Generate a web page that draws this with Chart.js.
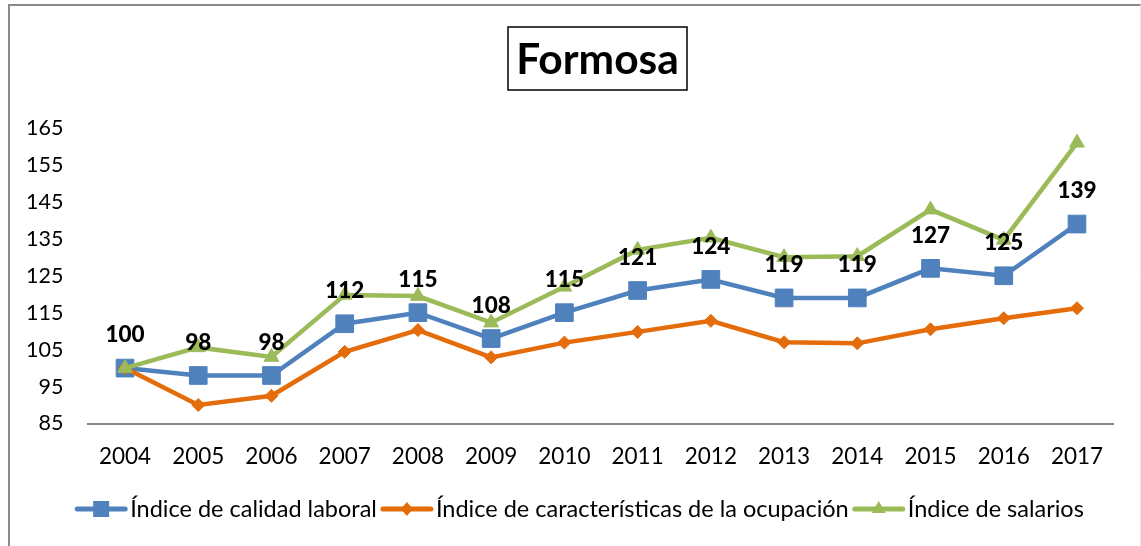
<!DOCTYPE html>
<html>
<head>
<meta charset="utf-8">
<script src="https://cdn.jsdelivr.net/npm/chart.js@4"></script>
<style>
html,body{margin:0;padding:0;background:#fff;}
#wrap{width:1141px;height:546px;position:relative;}
</style>
</head>
<body>
<div id="wrap"><canvas id="c" width="1141" height="546"></canvas></div>
<script>
const years = ['2004','2005','2006','2007','2008','2009','2010','2011','2012','2013','2014','2015','2016','2017'];
const calidadLaboral = [100, 98, 98, 112, 115, 108, 115, 121, 124, 119, 119, 127, 125, 139];
const caracteristicasOcupacion = [100, 90, 92.5, 104.4, 110.3, 102.9, 106.9, 109.8, 112.8, 107, 106.7, 110.5, 113.5, 116.2];
const salarios = [100, 105.6, 103, 119.8, 119.5, 112.3, 122, 132, 135.3, 130, 130.3, 142.9, 134.7, 161];
const seriesNames = ['Índice de calidad laboral', 'Índice de características de la ocupación', 'Índice de salarios'];
const yMin = 85, yMax = 165, yStep = 10;
const chartTitle = 'Formosa';

const BLUE = '#4F81BD', ORANGE = '#E46C0A', GREEN = '#9BBB59';
const FONT = 'Lato, "Noto Sans", sans-serif';

const framePlugin = {
  id: 'frame',
  beforeDraw(chart) {
    const ctx = chart.ctx;
    ctx.save();
    ctx.fillStyle = '#fff';
    ctx.fillRect(0, 0, chart.width, chart.height);
    ctx.strokeStyle = '#8a8a8a';
    ctx.lineWidth = 2;
    ctx.beginPath();
    ctx.moveTo(9, 546); ctx.lineTo(9, 5); ctx.lineTo(1141, 5);
    ctx.stroke();
    ctx.strokeStyle = '#e6e6e6';
    ctx.lineWidth = 1;
    ctx.beginPath();
    ctx.moveTo(1140.5, 5); ctx.lineTo(1140.5, 546);
    ctx.stroke();
    ctx.restore();
  }
};

const titlePlugin = {
  id: 'boxTitle',
  afterDraw(chart) {
    const ctx = chart.ctx;
    ctx.save();
    ctx.strokeStyle = '#000';
    ctx.lineWidth = 1.5;
    ctx.strokeRect(508, 27, 179, 63);
    ctx.fillStyle = '#000';
    ctx.font = 'bold 42.5px ' + FONT;
    ctx.textAlign = 'center';
    ctx.textBaseline = 'middle';
    ctx.fillText(chartTitle, 597.5, 60);
    ctx.restore();
  }
};

const labelPlugin = {
  id: 'valueLabels',
  afterDatasetsDraw(chart) {
    const ctx = chart.ctx;
    const meta = chart.getDatasetMeta(0);
    const data = chart.data.datasets[0].data;
    ctx.save();
    ctx.fillStyle = '#000';
    ctx.font = '900 22.5px ' + FONT;
    ctx.textAlign = 'center';
    ctx.textBaseline = 'middle';
    meta.data.forEach((pt, i) => {
      ctx.fillText(String(Math.round(data[i])), pt.x, pt.y - 33);
    });
    ctx.restore();
  }
};

function drawMarker(ctx, style, x, y, color) {
  ctx.fillStyle = color;
  ctx.beginPath();
  if (style === 'rect') {
    ctx.rect(x - 8, y - 8, 16, 16);
  } else if (style === 'rectRot') {
    ctx.moveTo(x - 6, y); ctx.lineTo(x, y - 7); ctx.lineTo(x + 6, y); ctx.lineTo(x, y + 7);
    ctx.closePath();
  } else {
    ctx.moveTo(x, y - 8); ctx.lineTo(x + 7, y + 4); ctx.lineTo(x - 7, y + 4);
    ctx.closePath();
  }
  ctx.fill();
}

const legendPlugin = {
  id: 'customLegend',
  afterDraw(chart) {
    const ctx = chart.ctx;
    const styles = ['rect', 'rectRot', 'triangle'];
    const colors = [BLUE, ORANGE, GREEN];
    ctx.save();
    ctx.font = '23.5px ' + FONT;
    const lineLen = 52, gapText = 3, gapItem = 4;
    const widths = seriesNames.map(n => ctx.measureText(n).width);
    const total = widths.reduce((a, w) => a + lineLen + gapText + w, 0) + gapItem * (seriesNames.length - 1);
    let x = 579.5 - total / 2;
    const y = 509;
    seriesNames.forEach((name, i) => {
      ctx.strokeStyle = colors[i];
      ctx.lineWidth = 5;
      ctx.lineCap = 'round';
      ctx.beginPath();
      ctx.moveTo(x + 2, y); ctx.lineTo(x + lineLen - 2, y);
      ctx.stroke();
      drawMarker(ctx, styles[i], x + lineLen / 2, y, colors[i]);
      ctx.fillStyle = '#000';
      ctx.textAlign = 'left';
      ctx.textBaseline = 'middle';
      ctx.fillText(name, x + lineLen + gapText, y);
      x += lineLen + gapText + widths[i] + gapItem;
    });
    ctx.restore();
  }
};

const yTicks = [];
for (let v = yMin; v <= yMax; v += yStep) yTicks.push(v);

new Chart(document.getElementById('c'), {
  type: 'line',
  data: {
    labels: years,
    datasets: [
      {
        label: seriesNames[0], data: calidadLaboral, order: 3,
        borderColor: BLUE, backgroundColor: BLUE, borderWidth: 4.5,
        pointStyle: 'rect', pointRadius: 12.5, pointBorderWidth: 1, pointBorderColor: BLUE, pointBackgroundColor: BLUE,
        tension: 0
      },
      {
        label: seriesNames[1], data: caracteristicasOcupacion, order: 2,
        borderColor: ORANGE, backgroundColor: ORANGE, borderWidth: 4.5,
        pointStyle: 'rectRot', pointRadius: 6.5, pointBorderWidth: 1, pointBorderColor: ORANGE, pointBackgroundColor: ORANGE,
        tension: 0
      },
      {
        label: seriesNames[2], data: salarios, order: 1,
        borderColor: GREEN, backgroundColor: GREEN, borderWidth: 4.5,
        pointStyle: 'triangle', pointRadius: 8.5, pointBorderWidth: 1, pointBorderColor: GREEN, pointBackgroundColor: GREEN,
        tension: 0
      }
    ]
  },
  options: {
    responsive: false,
    animation: false,
    devicePixelRatio: 1,
    layout: { padding: { top: 128, left: 0, right: 27.4, bottom: 0 } },
    plugins: {
      legend: { display: false },
      title: { display: false },
      tooltip: { enabled: false }
    },
    scales: {
      x: {
        offset: true,
        grid: { display: false, drawTicks: false },
        border: { display: true, color: '#868686', width: 2 },
        ticks: { color: '#000', font: { family: FONT, size: 22.5 }, padding: 20, maxRotation: 0, autoSkip: false },
        afterFit: s => { s.height = 122.5; }
      },
      y: {
        min: yMin, max: yMax,
        afterBuildTicks: s => { s.ticks = yTicks.map(v => ({ value: v })); },
        grid: { display: false, drawTicks: false },
        border: { display: false },
        ticks: { color: '#000', font: { family: FONT, size: 21.5 }, padding: 25 },
        afterFit: s => { s.width = 88.4; }
      }
    }
  },
  plugins: [framePlugin, labelPlugin, titlePlugin, legendPlugin]
});
</script>
</body>
</html>
